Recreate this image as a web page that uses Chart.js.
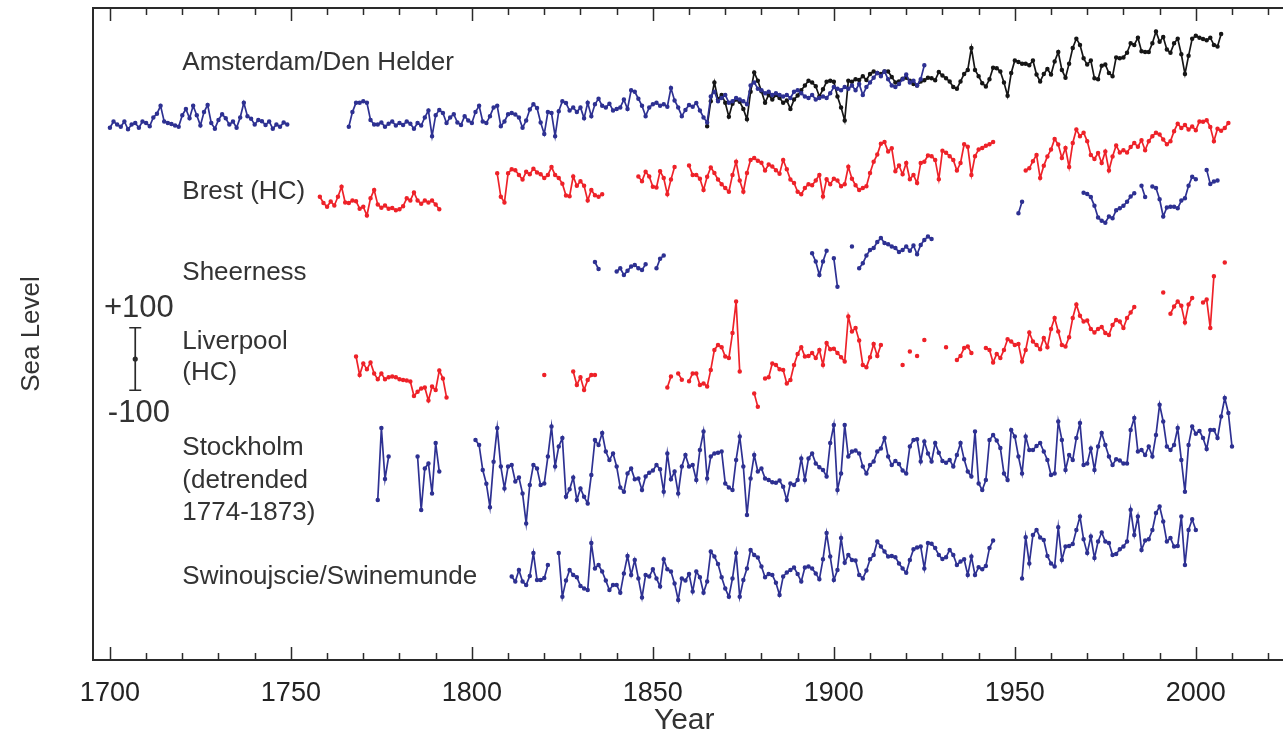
<!DOCTYPE html>
<html>
<head>
<meta charset="utf-8">
<title>Sea level records</title>
<script src="https://cdn.jsdelivr.net/npm/chart.js@4.4.0/dist/chart.umd.min.js"></script>
<style>
	html, body { margin: 0; padding: 0; background: #fff; overflow: hidden; }
	canvas { display: block; }
</style>
</head>
<body>
<canvas id="chartCanvas" width="1283" height="737"></canvas>
<script>
// yearly sea level, mm, relative to each record's own zero; null = no data
const AMSTERDAM_START = 1700
const amsterdam = [
	-25,-5,-15,-22,-5,-30,-15,-10,-25,-5,
	-10,-20,8,20,45,-5,-10,-13,-18,-22,
	15,35,5,45,15,-18,25,48,-10,-28,
	0,18,5,-15,-5,-25,8,55,12,4,
	-15,0,-4,-16,-5,-28,-15,-22,-8,-15,
	null,null,null,null,null,null,null,null,null,null,
	null,null,null,null,null,null,-22,25,55,55,
	60,55,0,-15,-15,-8,-22,-12,-5,-18,
	-10,-16,-5,-12,-28,-10,-18,8,30,-52,
	15,32,22,-10,8,18,-8,-16,12,-2,
	-10,25,45,-5,-10,12,40,45,-20,-5,
	18,22,17,8,-25,-2,33,50,38,-8,
	-45,25,22,-52,28,60,54,30,40,25,
	40,5,55,12,50,68,45,40,52,30,
	35,40,65,35,95,90,68,45,12,40,
	50,55,45,50,42,102,62,40,12,32,
	48,42,54,30,8,-8,75,90,60,70,
	80,55,60,70,65,60,50,110,120,100,
	95,85,90,80,85,80,75,80,70,90,
	95,85,75,70,80,65,70,75,70,85,
	105,100,95,105,100,110,95,115,80,105,
	120,135,150,140,155,130,110,105,115,130,
	145,120,125,110,130,175
]

const DEN_HELDER_START = 1865
const denHelder = [
	-20,60,120,65,80,
	55,10,52,65,58,35,2,90,152,125,
	92,55,80,65,80,70,55,62,35,65,
	78,95,110,125,120,108,75,98,122,125,
	122,75,40,-2,125,122,130,128,140,128,
	147,155,150,147,155,155,137,120,123,132,
	135,125,115,110,123,127,135,133,127,153,
	142,133,123,105,100,123,147,160,230,160,
	140,117,107,130,167,165,155,120,77,150,
	190,185,180,180,175,190,145,123,147,163,
	145,187,217,160,135,180,230,260,240,197,
	177,190,133,130,173,177,150,140,200,197,
	200,215,245,240,263,220,217,217,245,283,
	250,265,225,215,245,260,210,147,205,260,
	269,263,259,255,263,240,235,275
]

const BREST_START = 1758
const brest = [
	10,-10,
	-22,-5,-18,10,42,-8,-10,-2,-4,-28,
	-22,-50,5,32,-15,-25,-18,-28,-26,-33,
	-30,-20,5,-2,24,-2,-12,-2,-8,-2,
	-15,-30,null,null,null,null,null,null,null,null,
	null,null,null,null,null,null,null,85,10,-8,
	85,98,95,80,65,90,82,100,88,82,
	70,80,105,80,70,52,14,12,75,45,
	60,45,-2,32,15,10,18,null,null,null,
	null,null,null,null,null,null,75,60,90,75,
	42,40,92,70,18,65,105,null,null,null,
	110,80,80,68,32,74,104,86,65,50,
	38,26,80,122,62,26,86,128,134,125,
	119,94,113,107,95,84,128,98,65,54,
	26,18,38,50,47,62,80,11,66,50,
	68,62,44,50,106,68,47,32,38,44,
	86,122,145,180,185,155,165,92,110,82,
	118,66,80,54,118,122,142,140,128,66,
	157,151,140,128,94,118,178,170,80,140,
	161,166,173,178,185,null,null,null,null,null,
	null,null,null,94,101,124,144,70,109,139,
	161,195,177,134,166,105,182,225,204,215,
	188,144,131,150,118,155,94,139,174,152,
	159,152,169,182,170,191,159,188,204,215,
	209,193,178,188,220,244,230,240,225,235,
	223,251,250,255,233,188,228,221,230,246
]

// the blue record drawn under Brest
const BREST_BLUE_START = 1951
const brestBlue = [
	14,51,null,null,null,null,null,null,null,null,
	null,null,null,null,null,null,null,null,80,
	76,66,38,1,-10,-16,4,-2,24,30,
	38,51,68,78,null,102,66,null,100,95,
	59,4,33,35,35,30,55,62,102,131,
	123,null,null,153,108,116,119
]

const SHEERNESS_START = 1834
const sheerness = [
	9,-13,null,null,null,null,
	-21,-11,-32,-19,-5,0,-11,-16,2,null,
	null,-11,20,30,null,null,null,null,null,null,
	null,null,null,null,null,null,null,null,null,null,
	null,null,null,null,null,null,null,null,null,null,
	null,null,null,null,null,null,null,null,null,null,
	null,null,null,null,37,11,-32,11,45,null,
	21,-70,null,null,null,59,null,-11,5,30,
	48,54,73,86,70,66,59,54,41,48,
	59,45,62,34,64,80,91,83
]

const LIVERPOOL_START = 1768
const liverpool = [
	59,0,
	37,18,40,5,-14,5,-14,-7,-5,-7,
	-14,-16,-18,-21,-67,-54,-43,-40,-82,-37,
	-48,14,-11,-72,null,null,null,null,null,null,
	null,null,null,null,null,null,null,null,null,null,
	null,null,null,null,null,null,null,null,null,null,
	0,null,null,null,null,null,null,null,11,-32,
	-7,-48,-16,0,0,null,null,null,null,null,
	null,null,null,null,null,null,null,null,null,null,
	null,null,null,null,-40,-5,null,5,-15,null,
	-20,5,5,-32,-27,-37,16,80,96,89,
	59,54,134,235,11,null,null,null,-59,-102,
	null,-11,-7,37,32,18,16,-27,-16,32,
	67,89,59,61,70,54,80,32,102,82,
	84,70,57,43,187,139,150,110,32,25,
	57,99,61,96,null,null,null,null,null,32,
	null,75,null,61,null,112,null,null,null,null,
	null,89,null,null,48,61,86,91,70,null,
	null,null,86,80,40,67,54,80,114,107,
	96,99,43,80,136,107,96,82,118,89,
	147,182,139,96,91,121,182,225,189,171,
	174,147,136,147,153,134,128,160,176,171,
	150,182,200,217,null,null,null,null,null,null,
	null,264,null,196,219,235,221,168,225,246,
	null,null,232,241,150,316,null,null,360
]

const STOCKHOLM_START = 1774
const stockholm = [
	-112,118,-45,27,null,null,
	null,null,null,null,null,27,-144,-11,5,-91,
	70,-21,null,null,null,null,null,null,null,null,
	null,80,64,-16,-60,-135,10,118,-5,-75,
	-5,0,-53,-40,-91,-187,-64,0,-11,-64,
	-59,27,123,-5,59,86,-102,-78,-40,-112,
	-75,-102,-123,-32,80,64,102,43,16,37,
	-5,-72,-86,-27,-11,-46,-43,-80,-37,-25,
	-18,0,-14,-86,37,-46,-21,-91,-5,32,
	-5,0,-48,48,107,-43,27,37,39,43,
	-59,-72,-80,16,91,-5,-160,-43,32,-21,
	-11,-43,-48,-55,-57,-50,-70,-112,-59,-64,
	-48,21,-48,21,37,5,-7,-16,-37,70,
	128,-80,-27,128,27,43,46,37,-5,-27,
	0,11,43,53,86,27,0,13,3,-18,
	-27,59,80,82,11,75,37,11,70,39,
	13,7,16,-5,32,70,18,-21,-37,107,
	-59,-80,-48,80,96,78,54,-27,-48,112,
	91,27,-27,91,48,48,61,70,43,16,
	-32,-27,139,80,-16,32,16,86,134,0,
	5,53,-16,59,102,64,27,0,18,14,
	5,5,112,150,43,48,32,59,27,96,
	193,139,59,48,64,118,16,-86,64,123,
	100,109,86,51,112,112,86,155,214,166,
	59
]

const SWINOUJSCIE_START = 1811
const swinoujscie = [
	-5,-21,16,-21,-32,-3,70,-16,-16,
	-10,32,null,null,70,-70,-18,16,0,-7,
	-35,-43,-48,102,21,32,11,-18,-48,-32,
	-32,-57,5,61,0,48,-11,-72,0,-5,
	18,-11,-37,50,18,11,-27,-80,-11,-18,
	3,-53,11,-7,-57,-21,75,59,35,-7,
	-43,-70,-11,70,-70,-16,21,80,64,56,
	27,-7,3,0,-25,-64,-5,8,16,24,
	3,-21,24,27,21,5,-14,50,134,59,
	-16,16,118,39,64,48,46,0,-11,14,
	50,64,107,91,75,59,61,57,37,21,
	7,48,82,88,91,21,102,100,86,64,
	51,57,80,64,32,43,50,0,59,0,
	25,18,29,86,110,null,null,null,null,null,
	null,null,-11,121,37,128,144,120,112,61,
	37,27,153,48,91,93,99,144,187,114,
	70,123,54,107,136,107,102,64,67,82,
	91,107,209,128,187,80,110,114,144,198,
	219,171,107,118,91,93,187,32,144,178,
	144
]

// vertical offsets (mm) that stack the records above each other
const AMSTERDAM_BASE = 1728
const BREST_BASE = 1472
const BREST_BLUE_BASE = 1415
const SHEERNESS_BASE = 1264
const LIVERPOOL_BASE = 912
const STOCKHOLM_BASE = 624
const SWINOUJSCIE_BASE = 272

// +-100 mm scale bar
const SCALE_BAR_YEAR = 1707
const SCALE_BAR_CENTER = 963
const SCALE_BAR_HALF = 100

const tickYears = [1700, 1750, 1800, 1850, 1900, 1950, 2000]

const labelText = ['Amsterdam/Den Helder', 'Brest (HC)', 'Sheerness', 'Liverpool', '(HC)',
	'Stockholm', '(detrended', '1774-1873)', 'Swinoujscie/Swinemunde']
const labelLevel = [1911, 1498, 1239, 1018, 919, 679, 573, 471, 266]
const LABEL_YEAR = 1720

const BLUE = '#2e3192'
const RED = '#ee2229'
const BLACK = '#161616'
const FONT = "'Liberation Sans', Arial, sans-serif"

function toPoints(start, values, base) {
	return values.map((v, i) => ({ x: start + i, y: v === null ? null : v + base }))
}

function dataset(label, color, data) {
	return {
		label: label,
		data: data,
		borderColor: color,
		backgroundColor: color,
		borderWidth: 1.7,
		pointRadius: 1.4,
		pointHoverRadius: 0,
		fill: false,
		spanGaps: false,
		lineTension: 0
	}
}

// frame (the right edge runs off the canvas), inward ticks and the in-plot labels
const decorations = {
	id: 'decorations',
	afterDraw(chart) {
		const ctx = chart.ctx
		const a = chart.chartArea
		const xs = chart.scales.x, ys = chart.scales.y
		ctx.save()
		ctx.strokeStyle = '#2a2a2a'
		ctx.lineWidth = 2
		ctx.beginPath()
		ctx.moveTo(chart.width, a.top); ctx.lineTo(a.left, a.top)
		ctx.lineTo(a.left, a.bottom); ctx.lineTo(chart.width, a.bottom)
		ctx.stroke()
		ctx.lineWidth = 1.5
		for (let yr = 1700; yr <= 2020; yr += 10) {
			let px = Math.round(xs.getPixelForValue(yr)) + 0.5
			let len = yr % 50 === 0 ? 13 : 7
			ctx.beginPath()
			ctx.moveTo(px, a.top); ctx.lineTo(px, a.top + len)
			ctx.moveTo(px, a.bottom); ctx.lineTo(px, a.bottom - len)
			ctx.stroke()
		}
		ctx.fillStyle = '#333'
		ctx.textBaseline = 'middle'
		ctx.textAlign = 'left'
		ctx.font = '26px ' + FONT
		let lx = xs.getPixelForValue(LABEL_YEAR)
		for (let i = 0; i < labelText.length; i++) {
			ctx.fillText(labelText[i], lx, ys.getPixelForValue(labelLevel[i]))
		}
		ctx.textAlign = 'center'
		ctx.font = '31px ' + FONT
		let bx = xs.getPixelForValue(SCALE_BAR_YEAR + 1)
		ctx.fillText('+100', bx, ys.getPixelForValue(SCALE_BAR_CENTER + 2 * SCALE_BAR_HALF - 37))
		ctx.fillText('-100', bx, ys.getPixelForValue(SCALE_BAR_CENTER - 2 * SCALE_BAR_HALF + 27))
		ctx.restore()
	}
}

window.onload = function() {
	const scaleBar = [
		{ x: SCALE_BAR_YEAR, y: SCALE_BAR_CENTER + SCALE_BAR_HALF },
		{ x: SCALE_BAR_YEAR, y: SCALE_BAR_CENTER },
		{ x: SCALE_BAR_YEAR, y: SCALE_BAR_CENTER - SCALE_BAR_HALF }
	]
	const bar = dataset('scale', '#2a2a2a', scaleBar)
	bar.pointStyle = ['line', 'circle', 'line']
	bar.pointRadius = [6, 1.8, 6]
	bar.pointBorderWidth = 1.6

	const config = {
		type: 'line',
		data: {
			datasets: [
				dataset('Amsterdam', BLUE, toPoints(AMSTERDAM_START, amsterdam, AMSTERDAM_BASE)),
				dataset('Den Helder', BLACK, toPoints(DEN_HELDER_START, denHelder, AMSTERDAM_BASE)),
				dataset('Brest (HC)', RED, toPoints(BREST_START, brest, BREST_BASE)),
				dataset('Brest (blue)', BLUE, toPoints(BREST_BLUE_START, brestBlue, BREST_BLUE_BASE)),
				dataset('Sheerness', BLUE, toPoints(SHEERNESS_START, sheerness, SHEERNESS_BASE)),
				dataset('Liverpool (HC)', RED, toPoints(LIVERPOOL_START, liverpool, LIVERPOOL_BASE)),
				dataset('Stockholm', BLUE, toPoints(STOCKHOLM_START, stockholm, STOCKHOLM_BASE)),
				dataset('Swinoujscie/Swinemunde', BLUE, toPoints(SWINOUJSCIE_START, swinoujscie, SWINOUJSCIE_BASE)),
				bar
			]
		},
		options: {
			responsive: false,
			animation: false,
			devicePixelRatio: 1,
			layout: { padding: { top: 8, right: 0, bottom: 0, left: 0 } },
			plugins: { legend: { display: false }, tooltip: { enabled: false } },
			scales: {
				x: {
					type: 'linear',
					min: 1695.33,
					max: 2021.99,
					afterBuildTicks: s => { s.ticks = tickYears.map(v => ({ value: v })) },
					afterFit: s => { s.height = 77; s.paddingLeft = 0; s.paddingRight = 0 },
					grid: { display: false },
					border: { display: false },
					ticks: {
						autoSkip: false, maxRotation: 0, padding: 9,
						color: '#222', font: { family: FONT, size: 27 },
						callback: v => String(v)
					},
					title: {
						display: true, text: 'Year', color: '#333',
						font: { family: FONT, size: 30, lineHeight: 1.1 }, padding: { top: 0, bottom: 0 }
					}
				},
				y: {
					min: 0,
					max: 2086,
					afterFit: s => { s.width = 93 },
					grid: { display: false },
					border: { display: false },
					ticks: { display: false },
					title: {
						display: true, text: 'Sea Level', color: '#333',
						font: { family: FONT, size: 26 }, padding: { top: 16, bottom: 0 }
					}
				}
			}
		},
		plugins: [decorations]
	}
	window.myChart = new Chart(document.getElementById('chartCanvas'), config)
}
</script>
</body>
</html>
